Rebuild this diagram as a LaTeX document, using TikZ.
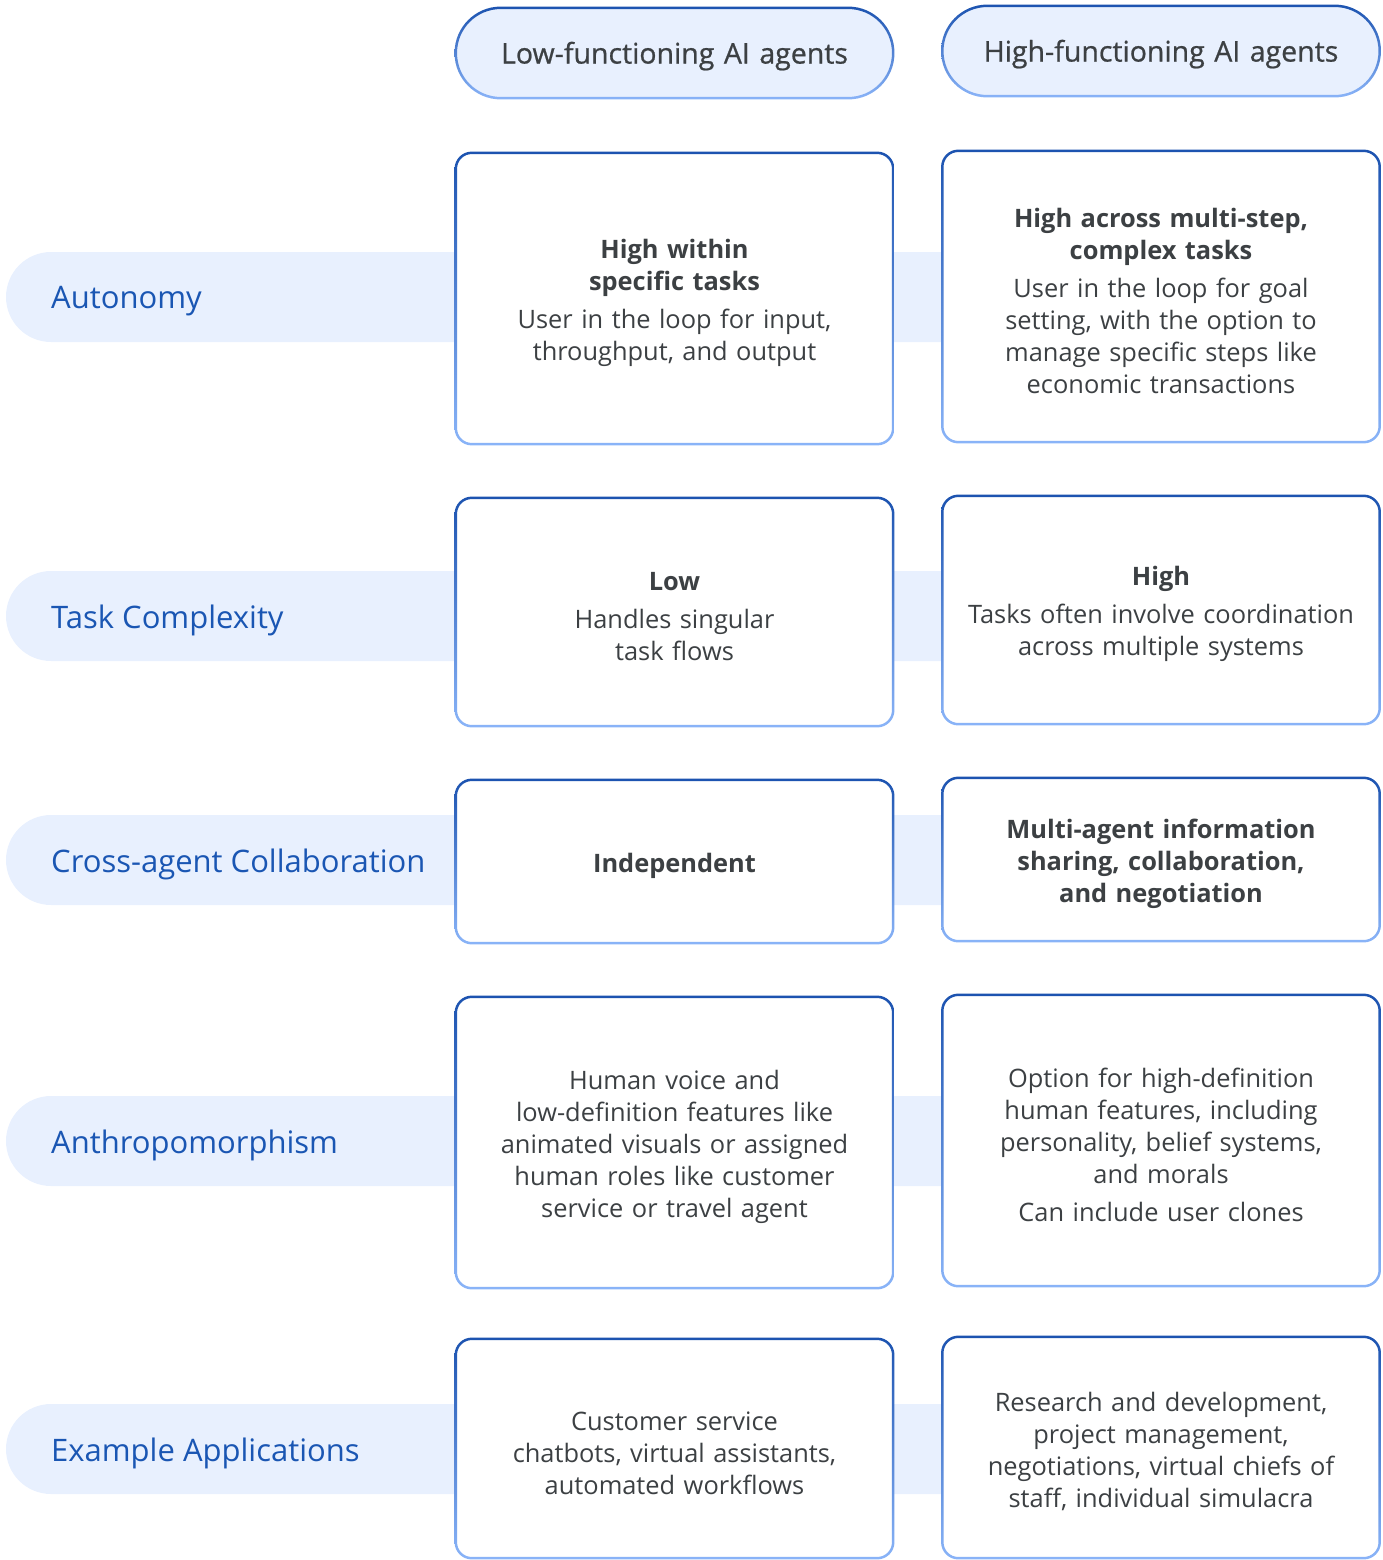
\documentclass[tikz,border=0pt]{standalone}
\usepackage{fontspec}
\setmainfont{Open Sans}
\newfontfamily\headfont[FakeBold=0.7]{Open Sans}
\usetikzlibrary{calc}
\definecolor{bandblue}{HTML}{E8F0FE}
\definecolor{labelblue}{HTML}{1A56B3}
\definecolor{bodygray}{HTML}{3C4043}
\definecolor{edgetop}{HTML}{1C53B0}
\definecolor{edgebot}{HTML}{8AB4F8}
\begin{document}
\begin{tikzpicture}[x=1pt, y=-1pt]
      \tikzset{cell/.style={rectangle, rounded corners=16pt, fill=white, inner sep=0pt, minimum width=437pt,
          text width=420pt, align=center, text=bodygray, font=\fontsize{25.4}{32}\selectfont,
          execute at begin node=\rule{0pt}{28pt}},
        head/.style={cell, rounded corners=45pt, fill=bandblue, minimum height=90pt,
          font=\headfont\fontsize{28.5}{32}\selectfont},
        rowlabel/.style={anchor=west, inner sep=0pt, text=labelblue, font=\fontsize{31}{36}\selectfont}}
      \useasboundingbox (0,0) rectangle (1382,1560);

      % row bands with their labels
      \foreach \y/\nm/\txt in {297/lAut/Autonomy, 616/lTask/Task Complexity,
          860/lCross/Cross-agent Collaboration, 1141/lAnth/Anthropomorphism,
          1449/lEx/Example Applications} {
        \fill[bandblue, rounded corners=45pt] (6,\y-45) rectangle (1100,\y+45);
        \node[rowlabel] (\nm) at (51,\y+4) {\txt};
      }

      % column heads
      \node[head] (hLow) at (674.5,53) {Low-functioning AI agents};
      \node[head] (hHigh) at (1161,51) {High-functioning AI agents};

      % cells
      \node[cell, minimum height=291pt] (cAutLow) at (674.5,298.5)
        {\textbf{High within\\specific tasks}\\[6pt]User in the loop for input,\\throughput, and output};
      \node[cell, minimum height=291pt] (cAutHigh) at (1161,296.5)
        {\textbf{High across multi-step,\\complex tasks}\\[6pt]User in the loop for goal\\setting, with the option to\\manage specific steps like\\economic transactions};
      \node[cell, minimum height=228pt] (cTaskLow) at (674.5,612)
        {\textbf{Low}\\[6pt]Handles singular\\task flows};
      \node[cell, minimum height=228pt] (cTaskHigh) at (1161,610)
        {\textbf{High}\\[6pt]Tasks often involve coordination\\across multiple systems};
      \node[cell, minimum height=163pt] (cCrossLow) at (674.5,861.5)
        {\textbf{Independent}};
      \node[cell, minimum height=163pt] (cCrossHigh) at (1161,859.5)
        {\textbf{Multi-agent information\\sharing, collaboration,\\and negotiation}};
      \node[cell, minimum height=291pt] (cAnthLow) at (674.5,1142.5)
        {Human voice and\\low-definition features like\\animated visuals or assigned\\human roles like customer\\service or travel agent};
      \node[cell, minimum height=291pt] (cAnthHigh) at (1161,1140.5)
        {Option for high-definition\\human features, including\\personality, belief systems,\\and morals\\[6pt]Can include user clones};
      \node[cell, minimum height=219pt] (cExLow) at (674.5,1448.5)
        {Customer service\\chatbots, virtual assistants,\\automated workflows};
      \node[cell, minimum height=221pt] (cExHigh) at (1161,1447.5)
        {Research and development,\\project management,\\negotiations, virtual chiefs of\\staff, individual simulacra};

      % borders shaded from dark to light blue
      \foreach \n/\r in {hLow/45, hHigh/45, cAutLow/16, cAutHigh/16, cTaskLow/16, cTaskHigh/16,
          cCrossLow/16, cCrossHigh/16, cAnthLow/16, cAnthHigh/16, cExLow/16, cExHigh/16} {
        \shade[top color=edgetop, bottom color=edgebot, even odd rule]
          [rounded corners=\r pt+1.25pt] ($(\n.north west)+(-1.25,-1.25)$) rectangle ($(\n.south east)+(1.25,1.25)$)
          [rounded corners=\r pt-1.25pt] ($(\n.north west)+(1.25,1.25)$) rectangle ($(\n.south east)+(-1.25,-1.25)$);
      }
    \end{tikzpicture}
\end{document}
